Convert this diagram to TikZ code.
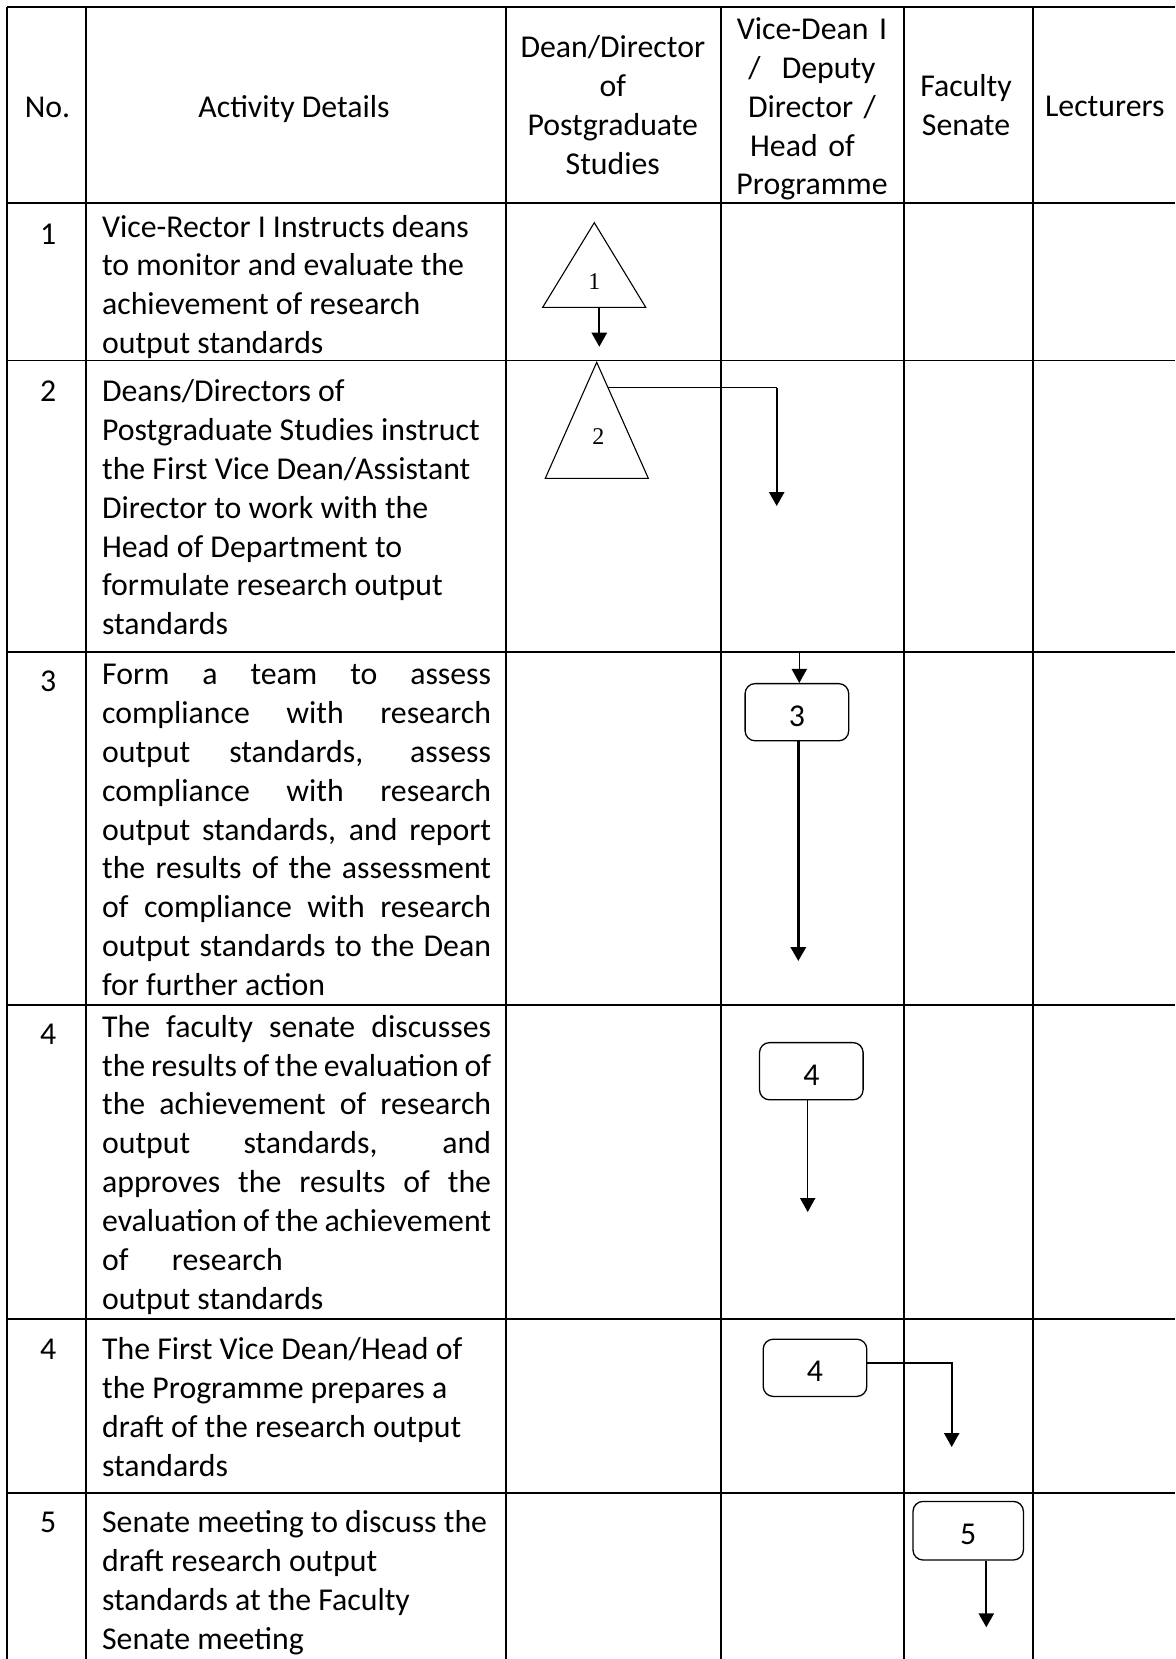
\documentclass[tikz,border=0pt]{standalone}
\usepackage{fontspec}
\setmainfont{Carlito}
\newfontfamily\trifont{Liberation Serif}
\usetikzlibrary{arrows.meta}
\newcommand{\jline}[1]{\makebox[\linewidth][s]{#1}}
\newcommand{\cellfont}{\fontsize{15.9}{19.45}\selectfont
  \spaceskip=0.226em plus 0.5em minus 0.08em\xspaceskip=\spaceskip\relax}

\begin{document}
\begin{tikzpicture}[x=0.5pt,y=-0.5pt,
    grid/.style={line width=0.85pt},
    txt/.style={inner sep=0pt, anchor=base, font=\cellfont},
    head/.style={txt, align=center, text width=120pt},
    cell/.style={txt, anchor=base west, align=justify, text width=215pt},
    jcell/.style={txt, anchor=base west, align=justify, text width=194.5pt},
    actbox/.style={draw, rounded corners=5pt, line width=0.65pt, inner sep=0pt,
      minimum width=51.8pt, minimum height=28.6pt, text height=14pt, text depth=0pt,
      font=\cellfont},
    tri/.style={line width=0.55pt},
    tnum/.style={inner sep=0pt, font=\trifont\fontsize{12}{14}\selectfont},
    arrowto/.style={-{Triangle[width=7.6pt,length=7pt]}, line width=#1},
    arrowto/.default=1pt]
      \useasboundingbox (0,0) rectangle (1175,1659);
      % table rules
      \foreach \yy in {6.7,202.7,360.5,652,1005.3,1319,1492.7}
        \draw[grid] (7.3,\yy) -- (1175,\yy);
      \foreach \xx in {7.3,86,505.7,721,904,1033}
        \draw[grid] (\xx,6.7) -- (\xx,1659);
      % header
      \node[txt] (colno) at (47.5,117.3) {No.};
      \node[txt] (colact) at (294,117.3) {Activity Details};
      \node[head] (coldean) at (612.8,58) {Dean/Director\\of\\Postgraduate\\Studies};
      \node[head] (colvice) at (812,39.4) {Vice-Dean I\\/\ \ Deputy\\Director /\\Head of\kern9.5pt\null\\Programme};
      \node[head] (colsen) at (966,97) {Faculty\\Senate};
      \node[txt] (collect) at (1104.8,116.7) {Lecturers};
      % row numbers
      \node[txt] (n1) at (48.3,244.7) {1};
      \node[txt] (n2) at (48.3,401.4) {2};
      \node[txt] (n3) at (48.3,691.7) {3};
      \node[txt] (n4) at (48.3,1044) {4};
      \node[txt] (n5) at (48.3,1359.3) {4};
      \node[txt] (n6) at (48.3,1532.3) {5};
      % activity details
      \node[cell] (d1) at (101.7,237) {Vice-Rector I Instructs deans\\to monitor and evaluate the\\achievement of research\\output standards};
      \node[cell] (d2) at (101.7,401.4) {Deans/Directors of\\Postgraduate Studies instruct\\the First Vice Dean/Assistant\\Director to work with the\\Head of Department to\\formulate research output\\standards};
      \node[jcell] (d3) at (101.7,684.4) {\jline{Form a team to assess}\\
        \jline{compliance with research}\\
        \jline{output standards, assess}\\
        \jline{compliance with research}\\
        \jline{output standards, and report}\\
        \jline{the results of the assessment}\\
        \jline{of compliance with research}\\
        \jline{output standards to the Dean}\\
        for further action};
      \node[jcell] (d4) at (101.7,1037.1) {\jline{The faculty senate discusses}\\
        \jline{the results of the evaluation of}\\
        \jline{the achievement of research}\\
        \jline{output standards, and}\\
        \jline{approves the results of the}\\
        \jline{evaluation of the achievement}\\
        of\hspace*{21.7pt}research\\
        output standards};
      \node[cell] (d5) at (101.7,1359.3) {The First Vice Dean/Head of\\the Programme prepares a\\draft of the research output\\standards};
      \node[cell] (d6) at (101.7,1532.3) {Senate meeting to discuss the\\draft research output\\standards at the Faculty\\Senate meeting};
      % triangles
      \draw[tri] (594.3,222.7) -- (645.7,307.3) -- (542.7,307.3) -- cycle;
      \node[tnum] (t1) at (594.3,282) {1};
      \draw[tri] (596.7,362.3) -- (648.3,478.3) -- (545.3,478.3) -- cycle;
      \node[tnum] (t2) at (598.3,436.3) {2};
      \coordinate (t1out) at (599.3,307.3);
      \coordinate (t1end) at (599.3,346.7);
      \coordinate (t2out) at (608,387.7);
      \coordinate (t2turn) at (776.7,387.7);
      \coordinate (t2end) at (776.7,506);
      \draw[arrowto] (t1out) -- (t1end);
      \draw[line width=0.65pt] (t2out) -- (t2turn);
      \draw[arrowto] (t2turn) -- (t2end);
      % activity boxes
      \node[actbox] (b3) at (796.9,712.2) {3};
      \node[actbox] (b4a) at (811.3,1071.2) {4};
      \node[actbox] (b4b) at (815,1367.8) {4};
      \node[actbox, minimum width=55.2pt, minimum height=29.3pt] (b5) at (968.2,1530.7) {5};
      \coordinate (s3) at (799.3,652);
      \coordinate (e3) at (798.3,961);
      \coordinate (e4a) at (807.7,1212);
      \coordinate (e4b) at (951.7,1447);
      \coordinate (e5) at (986.3,1627.3);
      \draw[arrowto=0.6pt] (s3) -- (s3 |- b3.north);
      \draw[arrowto=1.4pt] (b3.south -| e3) -- (e3);
      \draw[arrowto=0.7pt] (b4a.south -| e4a) -- (e4a);
      \draw[arrowto=0.85pt] ([yshift=2.5pt]b4b.east) -| (e4b);
      \draw[arrowto] (b5.south -| e5) -- (e5);
\end{tikzpicture}
\end{document}
